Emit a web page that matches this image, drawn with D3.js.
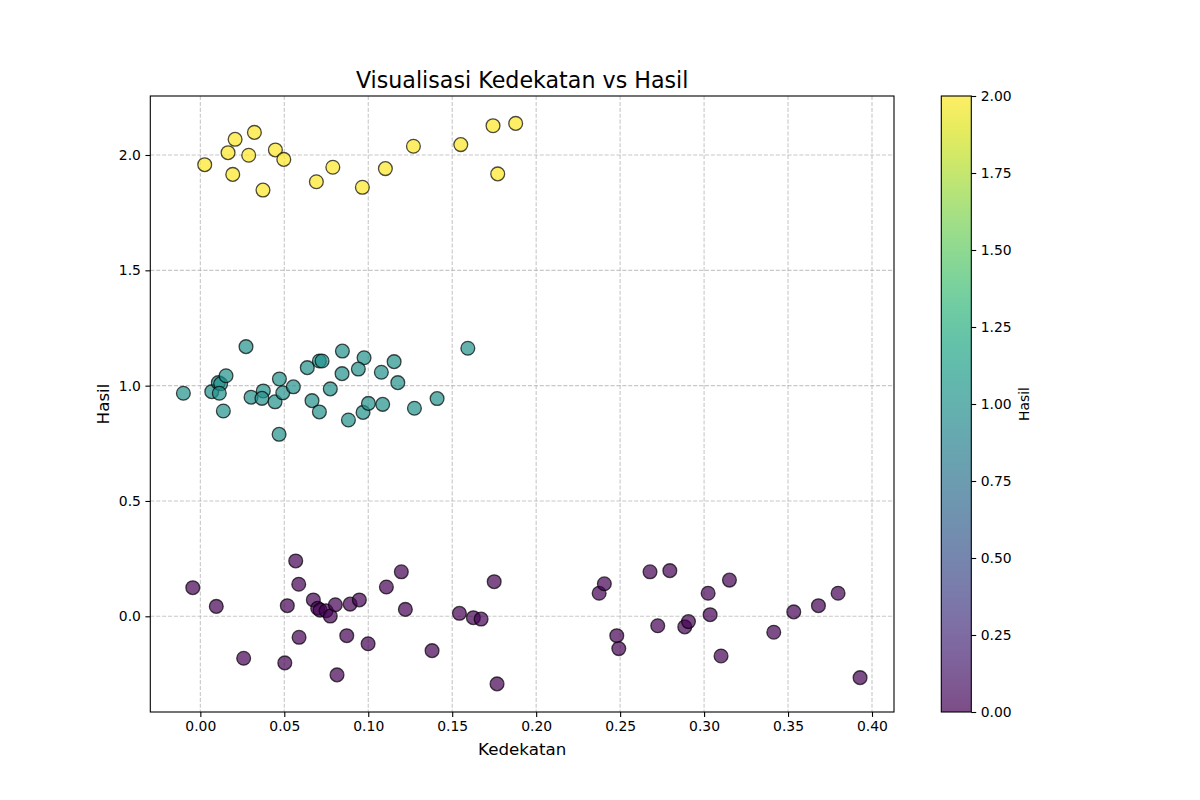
<!DOCTYPE html>
<html>
<head>
<meta charset="utf-8">
<script src="https://cdn.jsdelivr.net/npm/d3@7"></script>
<style>
  body { margin: 0; background: #fff; }
  svg { font-family: "DejaVu Sans", sans-serif; }
</style>
</head>
<body>
<div class="plot"></div>
<script>
// kelas 2 (kuning)
var kedekatan2 = [0.0026, 0.0165, 0.0207, 0.0193, 0.0322, 0.0288, 0.0373, 0.0447, 0.0497,
                  0.0691, 0.0789, 0.0965, 0.1102, 0.1269, 0.1551, 0.1743, 0.1878, 0.1771];
var hasil2 = [1.958, 2.010, 2.068, 1.916, 2.098, 1.999, 1.848, 2.022, 1.981,
              1.884, 1.947, 1.860, 1.941, 2.038, 2.045, 2.127, 2.137, 1.918];

// kelas 1 (hijau kebiruan)
var kedekatan1 = [-0.0101, 0.0272, 0.0068, 0.0107, 0.0121, 0.0153, 0.0113, 0.0137, 0.0302,
                  0.0375, 0.0367, 0.0445, 0.0471, 0.0491, 0.0554, 0.0469, 0.0637, 0.0709,
                  0.0725, 0.0665, 0.0709, 0.0774, 0.0846, 0.0844, 0.0882, 0.0975, 0.0941,
                  0.0969, 0.1001, 0.1078, 0.1086, 0.1154, 0.1176, 0.1275, 0.1410, 0.1593];
var hasil1 = [0.967, 1.169, 0.974, 1.013, 1.008, 1.043, 0.967, 0.890, 0.950,
              0.977, 0.945, 0.930, 1.029, 0.969, 0.995, 0.789, 1.078, 1.107,
              1.107, 0.935, 0.886, 0.986, 1.150, 1.052, 0.851, 1.121, 1.072,
              0.884, 0.923, 1.058, 0.919, 1.104, 1.013, 0.902, 0.944, 1.162];

// kelas 0 (ungu)
var kedekatan0 = [-0.0045, 0.0095, 0.0258, 0.0503, 0.0518, 0.0568, 0.0586, 0.0588, 0.0673,
                  0.0699, 0.0713, 0.0749, 0.0774, 0.0804, 0.0814, 0.0872, 0.0892, 0.0947,
                  0.0999, 0.1108, 0.1197, 0.1221, 0.1380, 0.1543, 0.1626, 0.1672, 0.1750,
                  0.1767, 0.2375, 0.2406, 0.2480, 0.2492, 0.2678, 0.2724, 0.2796, 0.2885,
                  0.2907, 0.3024, 0.3036, 0.3101, 0.3151, 0.3415, 0.3534, 0.3681, 0.3798,
                  0.3929];
var hasil0 = [0.124, 0.043, -0.182, -0.202, 0.046, 0.240, 0.139, -0.091, 0.071,
              0.035, 0.027, 0.024, 0.001, 0.050, -0.254, -0.084, 0.053, 0.071,
              -0.119, 0.127, 0.193, 0.030, -0.149, 0.013, -0.006, -0.012, 0.150,
              -0.293, 0.100, 0.141, -0.084, -0.140, 0.193, -0.041, 0.198, -0.046,
              -0.023, 0.100, 0.007, -0.172, 0.157, -0.069, 0.019, 0.046, 0.100,
              -0.266];

var xTicks = [0.00, 0.05, 0.10, 0.15, 0.20, 0.25, 0.30, 0.35, 0.40];
var yTicks = [0.0, 0.5, 1.0, 1.5, 2.0];
var cTicks = [0.00, 0.25, 0.50, 0.75, 1.00, 1.25, 1.50, 1.75, 2.00];

var points = [];
[[kedekatan0, hasil0, 0], [kedekatan1, hasil1, 1], [kedekatan2, hasil2, 2]].forEach(function(g){
  g[0].forEach(function(v, i){ points.push({x: v, y: g[1][i], k: g[2]}); });
});

var W = 1200, H = 800;
var m = {t: 96, l: 150.3, r: 306, b: 88};
var w = W - m.l - m.r, h = H - m.t - m.b;

var svg = d3.select('.plot').append('svg')
    .attr('width', W)
    .attr('height', H);

var x = d3.scaleLinear().domain([-0.0298, 0.4131]).range([0, w]);
var y = d3.scaleLinear().domain([-0.4149, 2.2558]).range([h, 0]);
var c = function(k){ return d3.interpolateViridis(k / 2); };

var plot = svg.append('g')
    .attr('transform', 'translate(' + m.l + ',' + m.t + ')');

// grid
plot.append('g').selectAll('line.gx')
    .data(xTicks).enter().append('line')
    .attr('x1', function(d){ return x(d); })
    .attr('x2', function(d){ return x(d); })
    .attr('y1', 0).attr('y2', h);
plot.append('g').selectAll('line.gy')
    .data(yTicks).enter().append('line')
    .attr('y1', function(d){ return y(d); })
    .attr('y2', function(d){ return y(d); })
    .attr('x1', 0).attr('x2', w);
plot.selectAll('g line')
    .attr('stroke', '#b0b0b0')
    .attr('stroke-opacity', 0.7)
    .attr('stroke-width', 1.1)
    .attr('stroke-dasharray', '4.1,1.8');

plot.selectAll('circle')
    .data(points)
    .enter()
    .append('circle')
    .attr('cx', function(d){ return x(d.x); })
    .attr('cy', function(d){ return y(d.y); })
    .attr('r', 6.9)
    .attr('fill', function(d){ return c(d.k); })
    .attr('fill-opacity', 0.7)
    .attr('stroke', '#000')
    .attr('stroke-opacity', 0.7)
    .attr('stroke-width', 1.3);

var xAxis = plot.append('g')
    .attr('transform', 'translate(0,' + h + ')')
    .call(d3.axisBottom(x).tickValues(xTicks).tickFormat(d3.format('.2f')).tickSizeOuter(0).tickSize(4.9).tickPadding(4.5));
var yAxis = plot.append('g')
    .call(d3.axisLeft(y).tickValues(yTicks).tickFormat(d3.format('.1f')).tickSizeOuter(0).tickSize(4.9).tickPadding(4.5));
[xAxis, yAxis].forEach(function(a){
  a.select('.domain').remove();
  a.selectAll('line').attr('stroke', '#000').attr('stroke-width', 1.1);
  a.selectAll('text').attr('font-size', 13.9).attr('fill', '#000')
    .attr('font-family', '"DejaVu Sans", sans-serif');
});

plot.append('rect')
    .attr('width', w).attr('height', h)
    .attr('fill', 'none').attr('stroke', '#000').attr('stroke-width', 1.1);

svg.append('text')
    .attr('x', m.l + w / 2).attr('y', 88)
    .attr('text-anchor', 'middle')
    .attr('font-size', 22.2)
    .text('Visualisasi Kedekatan vs Hasil');

svg.append('text')
    .attr('x', m.l + w / 2).attr('y', 755)
    .attr('text-anchor', 'middle')
    .attr('font-size', 16.7)
    .text('Kedekatan');

svg.append('text')
    .attr('transform', 'translate(109,' + (m.t + h / 2) + ') rotate(-90)')
    .attr('text-anchor', 'middle')
    .attr('font-size', 16.7)
    .text('Hasil');

// colorbar
var cb = {x: 941.3, w: 30};
var cy = d3.scaleLinear().domain([0, 2]).range([m.t + h, m.t]);
var grad = svg.append('defs').append('linearGradient')
    .attr('id', 'viridis')
    .attr('x1', 0).attr('y1', 1).attr('x2', 0).attr('y2', 0);
grad.selectAll('stop')
    .data(d3.range(0, 1.0001, 0.05))
    .enter().append('stop')
    .attr('offset', function(d){ return d; })
    .attr('stop-color', function(d){ return d3.interpolateViridis(d); })
    .attr('stop-opacity', 0.7);

svg.append('rect')
    .attr('x', cb.x).attr('y', m.t)
    .attr('width', cb.w).attr('height', h)
    .attr('fill', 'url(#viridis)');

var cAxis = svg.append('g')
    .attr('transform', 'translate(' + (cb.x + cb.w) + ',0)')
    .call(d3.axisRight(cy).tickValues(cTicks).tickFormat(d3.format('.2f')).tickSizeOuter(0).tickSize(4.9).tickPadding(4.5));
cAxis.select('.domain').remove();
cAxis.selectAll('line').attr('stroke', '#000').attr('stroke-width', 1.1);
cAxis.selectAll('text').attr('font-size', 13.9).attr('fill', '#000')
    .attr('font-family', '"DejaVu Sans", sans-serif');

svg.append('rect')
    .attr('x', cb.x).attr('y', m.t)
    .attr('width', cb.w).attr('height', h)
    .attr('fill', 'none').attr('stroke', '#000').attr('stroke-width', 1.1);

svg.append('text')
    .attr('transform', 'translate(1029,' + (m.t + h / 2) + ') rotate(-90)')
    .attr('text-anchor', 'middle')
    .attr('font-size', 13.9)
    .text('Hasil');
</script>
</body>
</html>
